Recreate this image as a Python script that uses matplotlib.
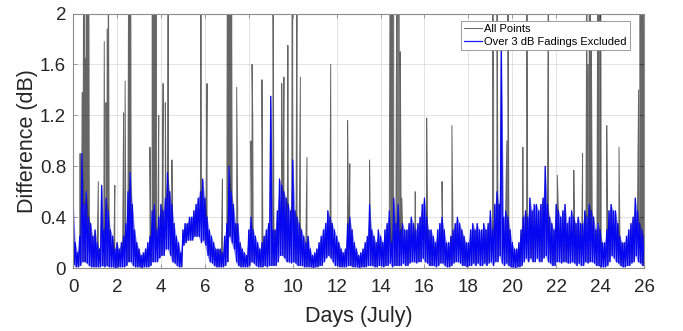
import numpy as np
import matplotlib
matplotlib.use('Agg')
from matplotlib import pyplot as plt
import matplotlib.ticker as ticker

# Sampling step of the difference record (days)
t_step = 0.1

# Upper level of the difference after removing >3 dB fadings, one value per step (dB)
blue_hi = [
    0.55, 0.2, 0.12, 0.25, 0.9, 0.5, 0.6, 0.4, 0.35, 0.25,      # day 0
    0.3, 0.2, 0.15, 0.65, 0.3, 0.55, 0.45, 0.3, 0.25, 0.15,     # day 1
    0.2, 0.15, 0.2, 0.25, 0.35, 0.6, 0.75, 0.5, 0.3, 0.2,       # day 2
    0.15, 0.1, 0.12, 0.15, 0.2, 0.25, 0.45, 0.5, 0.3, 0.4,      # day 3
    0.5, 0.45, 0.55, 0.75, 0.6, 0.5, 0.35, 0.25, 0.2, 0.12,     # day 4
    0.3, 0.35, 0.35, 0.4, 0.4, 0.45, 0.5, 0.55, 0.6, 0.7,       # day 5
    0.55, 0.4, 0.3, 0.25, 0.2, 0.15, 0.15, 0.15, 0.12, 0.25,    # day 6
    0.35, 0.8, 0.6, 0.5, 0.35, 0.35, 0.2, 0.15, 0.12, 0.1,      # day 7
    0.3, 0.4, 0.3, 0.25, 0.2, 0.15, 0.2, 0.25, 0.3, 0.35,       # day 8
    1.35, 0.3, 0.3, 0.45, 0.7, 0.65, 0.6, 0.55, 0.5, 0.45,      # day 9
    0.85, 0.45, 0.4, 0.35, 0.3, 0.25, 0.2, 0.25, 0.15, 0.1,     # day 10
    0.12, 0.15, 0.2, 0.25, 0.3, 0.35, 0.45, 0.4, 0.35, 0.3,     # day 11
    0.25, 0.2, 0.15, 0.12, 0.15, 0.35, 0.4, 0.3, 0.2, 0.15,     # day 12
    0.1, 0.12, 0.15, 0.2, 0.25, 0.5, 0.3, 0.25, 0.2, 0.3,       # day 13
    0.25, 0.2, 0.3, 0.35, 0.45, 0.2, 0.55, 0.35, 0.5, 0.3,      # day 14
    0.35, 0.3, 0.3, 0.35, 0.4, 0.35, 0.3, 0.35, 0.4, 0.5,       # day 15
    0.55, 0.4, 0.3, 0.3, 0.25, 0.2, 0.3, 0.35, 0.4, 0.3,        # day 16
    0.2, 0.2, 0.25, 0.3, 0.35, 0.4, 0.35, 0.3, 0.25, 0.2,       # day 17
    0.2, 0.3, 0.35, 0.3, 0.35, 0.3, 0.3, 0.35, 0.3, 0.35,       # day 18
    0.45, 0.3, 0.5, 0.6, 0.5, 1.8, 0.4, 0.45, 0.4, 0.3,         # day 19
    0.2, 0.15, 0.15, 0.2, 0.3, 0.4, 0.45, 0.4, 0.55, 0.45,      # day 20
    0.5, 0.5, 0.45, 0.5, 0.55, 0.8, 0.5, 0.4, 0.35, 0.3,        # day 21
    0.5, 0.45, 0.4, 0.45, 0.5, 0.35, 0.4, 0.45, 0.4, 0.35,      # day 22
    0.4, 0.35, 0.35, 0.45, 0.4, 0.5, 0.45, 0.4, 0.3, 0.35,      # day 23
    0.3, 0.2, 0.2, 0.3, 0.45, 0.5, 0.45, 0.45, 0.35, 0.25,      # day 24
    0.2, 0.2, 0.25, 0.3, 0.35, 0.4, 0.55, 0.45, 0.35, 0.3,      # day 25
    0.25,                                                       # day 26
]

# Lower level between the samples above (dB)
blue_lo = [
    0.03, 0.01, 0.01, 0.02, 0.05, 0.05, 0.04, 0.02, 0.01, 0.01,
    0.01, 0.01, 0.01, 0.02, 0.01, 0.02, 0.01, 0.01, 0.01, 0.0,
    0.01, 0.01, 0.01, 0.01, 0.02, 0.05, 0.05, 0.02, 0.01, 0.01,
    0.01, 0.0, 0.01, 0.01, 0.01, 0.02, 0.05, 0.05, 0.05, 0.08,
    0.1, 0.1, 0.15, 0.15, 0.1, 0.05, 0.04, 0.02, 0.01, 0.01,
    0.18, 0.2, 0.22, 0.22, 0.22, 0.25, 0.25, 0.25, 0.2, 0.22,
    0.18, 0.1, 0.05, 0.04, 0.02, 0.01, 0.01, 0.01, 0.01, 0.02,
    0.05, 0.25, 0.2, 0.15, 0.05, 0.02, 0.01, 0.01, 0.01, 0.01,
    0.02, 0.05, 0.04, 0.02, 0.01, 0.01, 0.01, 0.02, 0.01, 0.02,
    0.02, 0.02, 0.02, 0.05, 0.1, 0.1, 0.08, 0.05, 0.05, 0.04,
    0.05, 0.04, 0.02, 0.02, 0.02, 0.01, 0.01, 0.01, 0.01, 0.0,
    0.01, 0.01, 0.02, 0.02, 0.05, 0.08, 0.1, 0.08, 0.05, 0.02,
    0.02, 0.01, 0.01, 0.01, 0.01, 0.02, 0.02, 0.01, 0.01, 0.01,
    0.0, 0.01, 0.01, 0.01, 0.02, 0.02, 0.02, 0.01, 0.01, 0.02,
    0.02, 0.01, 0.02, 0.02, 0.04, 0.01, 0.02, 0.02, 0.02, 0.02,
    0.04, 0.02, 0.02, 0.04, 0.05, 0.05, 0.04, 0.05, 0.05, 0.08,
    0.05, 0.04, 0.02, 0.02, 0.02, 0.01, 0.02, 0.04, 0.04, 0.02,
    0.01, 0.01, 0.02, 0.04, 0.05, 0.05, 0.04, 0.02, 0.02, 0.01,
    0.02, 0.02, 0.04, 0.02, 0.04, 0.02, 0.02, 0.04, 0.02, 0.04,
    0.05, 0.02, 0.05, 0.05, 0.1, 0.04, 0.02, 0.04, 0.02, 0.01,
    0.01, 0.0, 0.01, 0.01, 0.02, 0.05, 0.08, 0.05, 0.08, 0.05,
    0.05, 0.08, 0.05, 0.05, 0.08, 0.1, 0.05, 0.04, 0.02, 0.02,
    0.05, 0.05, 0.04, 0.05, 0.05, 0.04, 0.04, 0.05, 0.04, 0.02,
    0.04, 0.02, 0.02, 0.05, 0.04, 0.05, 0.05, 0.04, 0.02, 0.02,
    0.01, 0.01, 0.01, 0.02, 0.05, 0.1, 0.08, 0.05, 0.04, 0.02,
    0.01, 0.01, 0.02, 0.02, 0.04, 0.05, 0.1, 0.05, 0.04, 0.02,
    0.02,
]

# Fading events that only appear in the full record (day, dB)
spike_days = [
    0.32, 0.42, 0.48, 0.53, 0.58, 0.62, 0.67, 0.71,
    1.15, 1.42, 1.50, 1.55, 1.60, 1.90, 2.30, 2.37, 2.53, 2.58, 2.62,
    3.50, 3.60, 3.65, 3.70, 3.75, 3.80, 3.90, 4.10, 4.20, 4.33, 4.50,
    5.82, 6.10, 6.80, 7.03, 7.08, 7.13, 7.18, 7.22, 7.45,
    8.10, 8.15, 8.18, 8.60, 9.10, 9.50, 9.60, 9.78, 9.98, 10.20, 10.35, 10.65,
    11.73, 12.50, 12.60, 13.50, 14.45, 14.50, 14.55, 14.60, 14.75, 14.80,
    14.85, 14.90, 14.97, 15.58, 16.10, 16.80, 17.25,
    19.10, 19.15, 19.30, 19.75, 19.80, 20.48, 20.66, 21.65, 22.05, 22.80,
    23.20, 23.40, 23.45, 23.50, 23.55, 23.60, 23.90, 23.95, 24.00,
    24.03, 24.30, 24.86, 25.75, 25.82, 25.87, 25.92, 25.97,
]
spike_vals = [
    0.9, 1.38, 2.6, 3.0, 1.65, 3.0, 3.0, 2.5,
    0.68, 1.78, 1.3, 1.88, 3.0, 0.65, 1.22, 1.47, 2.5, 3.0, 3.0,
    0.95, 3.0, 3.0, 2.5, 3.0, 2.2, 1.2, 1.45, 1.3, 3.0, 0.85,
    3.0, 1.45, 0.7, 3.0, 3.0, 2.5, 3.0, 2.2, 1.42,
    1.0, 1.6, 1.2, 1.48, 3.0, 1.45, 1.5, 1.75, 2.5, 3.0, 1.5, 0.87,
    1.6, 1.16, 0.82, 0.85, 3.0, 3.0, 3.0, 2.5, 3.0, 3.0,
    3.0, 1.7, 0.55, 0.6, 1.18, 0.68, 1.12,
    3.0, 1.4, 3.0, 1.0, 2.5, 0.95, 3.0, 3.0, 0.73, 0.77,
    0.9, 3.0, 1.6, 3.0, 2.2, 1.8, 3.0, 3.0, 3.0,
    2.5, 1.12, 0.95, 1.4, 3.0, 2.5, 3.0, 2.0,
]

plt.rcParams['font.family'] = ['Liberation Sans', 'DejaVu Sans']

# Time axis of the cleaned record, troughs sit half a step after each peak
t_hi = np.arange(len(blue_hi)) * t_step
t_lo = t_hi + t_step / 2
t_blue = np.column_stack([t_hi, t_lo]).ravel()[:-1]
v_blue = np.column_stack([blue_hi, blue_lo]).ravel()[:-1]

# Full record = cleaned samples plus the fading events
t_all = np.concatenate([t_blue, spike_days])
v_all = np.concatenate([v_blue, spike_vals])
order = np.argsort(t_all, kind='stable')
t_all, v_all = t_all[order], v_all[order]

fig = plt.figure(figsize=(6.83, 3.31), dpi=100)
ax = fig.add_axes([0.107, 0.190, 0.836, 0.769])

ax.plot(t_all, v_all, color='black', lw=0.7, alpha=0.6, label='All Points')
# dense body of the cleaned record
ax.fill_between(t_hi, blue_lo, blue_hi, color='blue', alpha=0.45, lw=0)
ax.plot(t_blue, v_blue, color='blue', lw=0.9, alpha=0.9,
        label='Over 3 dB Fadings Excluded')

ax.set_xlim(0, 26)
ax.set_ylim(0, 2)
ax.xaxis.set_major_locator(ticker.MultipleLocator(2))
ax.yaxis.set_major_locator(ticker.MultipleLocator(0.4))
ax.yaxis.set_major_formatter(ticker.FuncFormatter(lambda v, p: f'{v:g}'))

ax.grid(color='#d0d0d0', linewidth=0.6, alpha=0.7)
ax.set_axisbelow(True)
for s in ax.spines.values():
    s.set_color('#8c8c8c')
    s.set_linewidth(0.8)
ax.tick_params(direction='in', length=3, width=0.6, color='#8c8c8c',
               labelsize=13.5, labelcolor='#262626', top=True, right=True,
               labeltop=False, labelright=False, pad=5)
ax.tick_params(axis='x', pad=8)

ax.set_xlabel('Days (July)', fontsize=15.5, color='#262626', labelpad=7)
ax.set_ylabel('Difference (dB)', fontsize=15.5, color='#262626', labelpad=1)

leg = ax.legend(loc='upper right', bbox_to_anchor=(0.9755, 0.972),
                borderaxespad=0, fontsize=8, fancybox=False, framealpha=1,
                edgecolor='#8c8c8c', labelspacing=0.25, borderpad=0.3,
                handlelength=1.6, handletextpad=0.2)
leg.get_frame().set_linewidth(0.6)

fig.savefig('out.png', dpi=100)
